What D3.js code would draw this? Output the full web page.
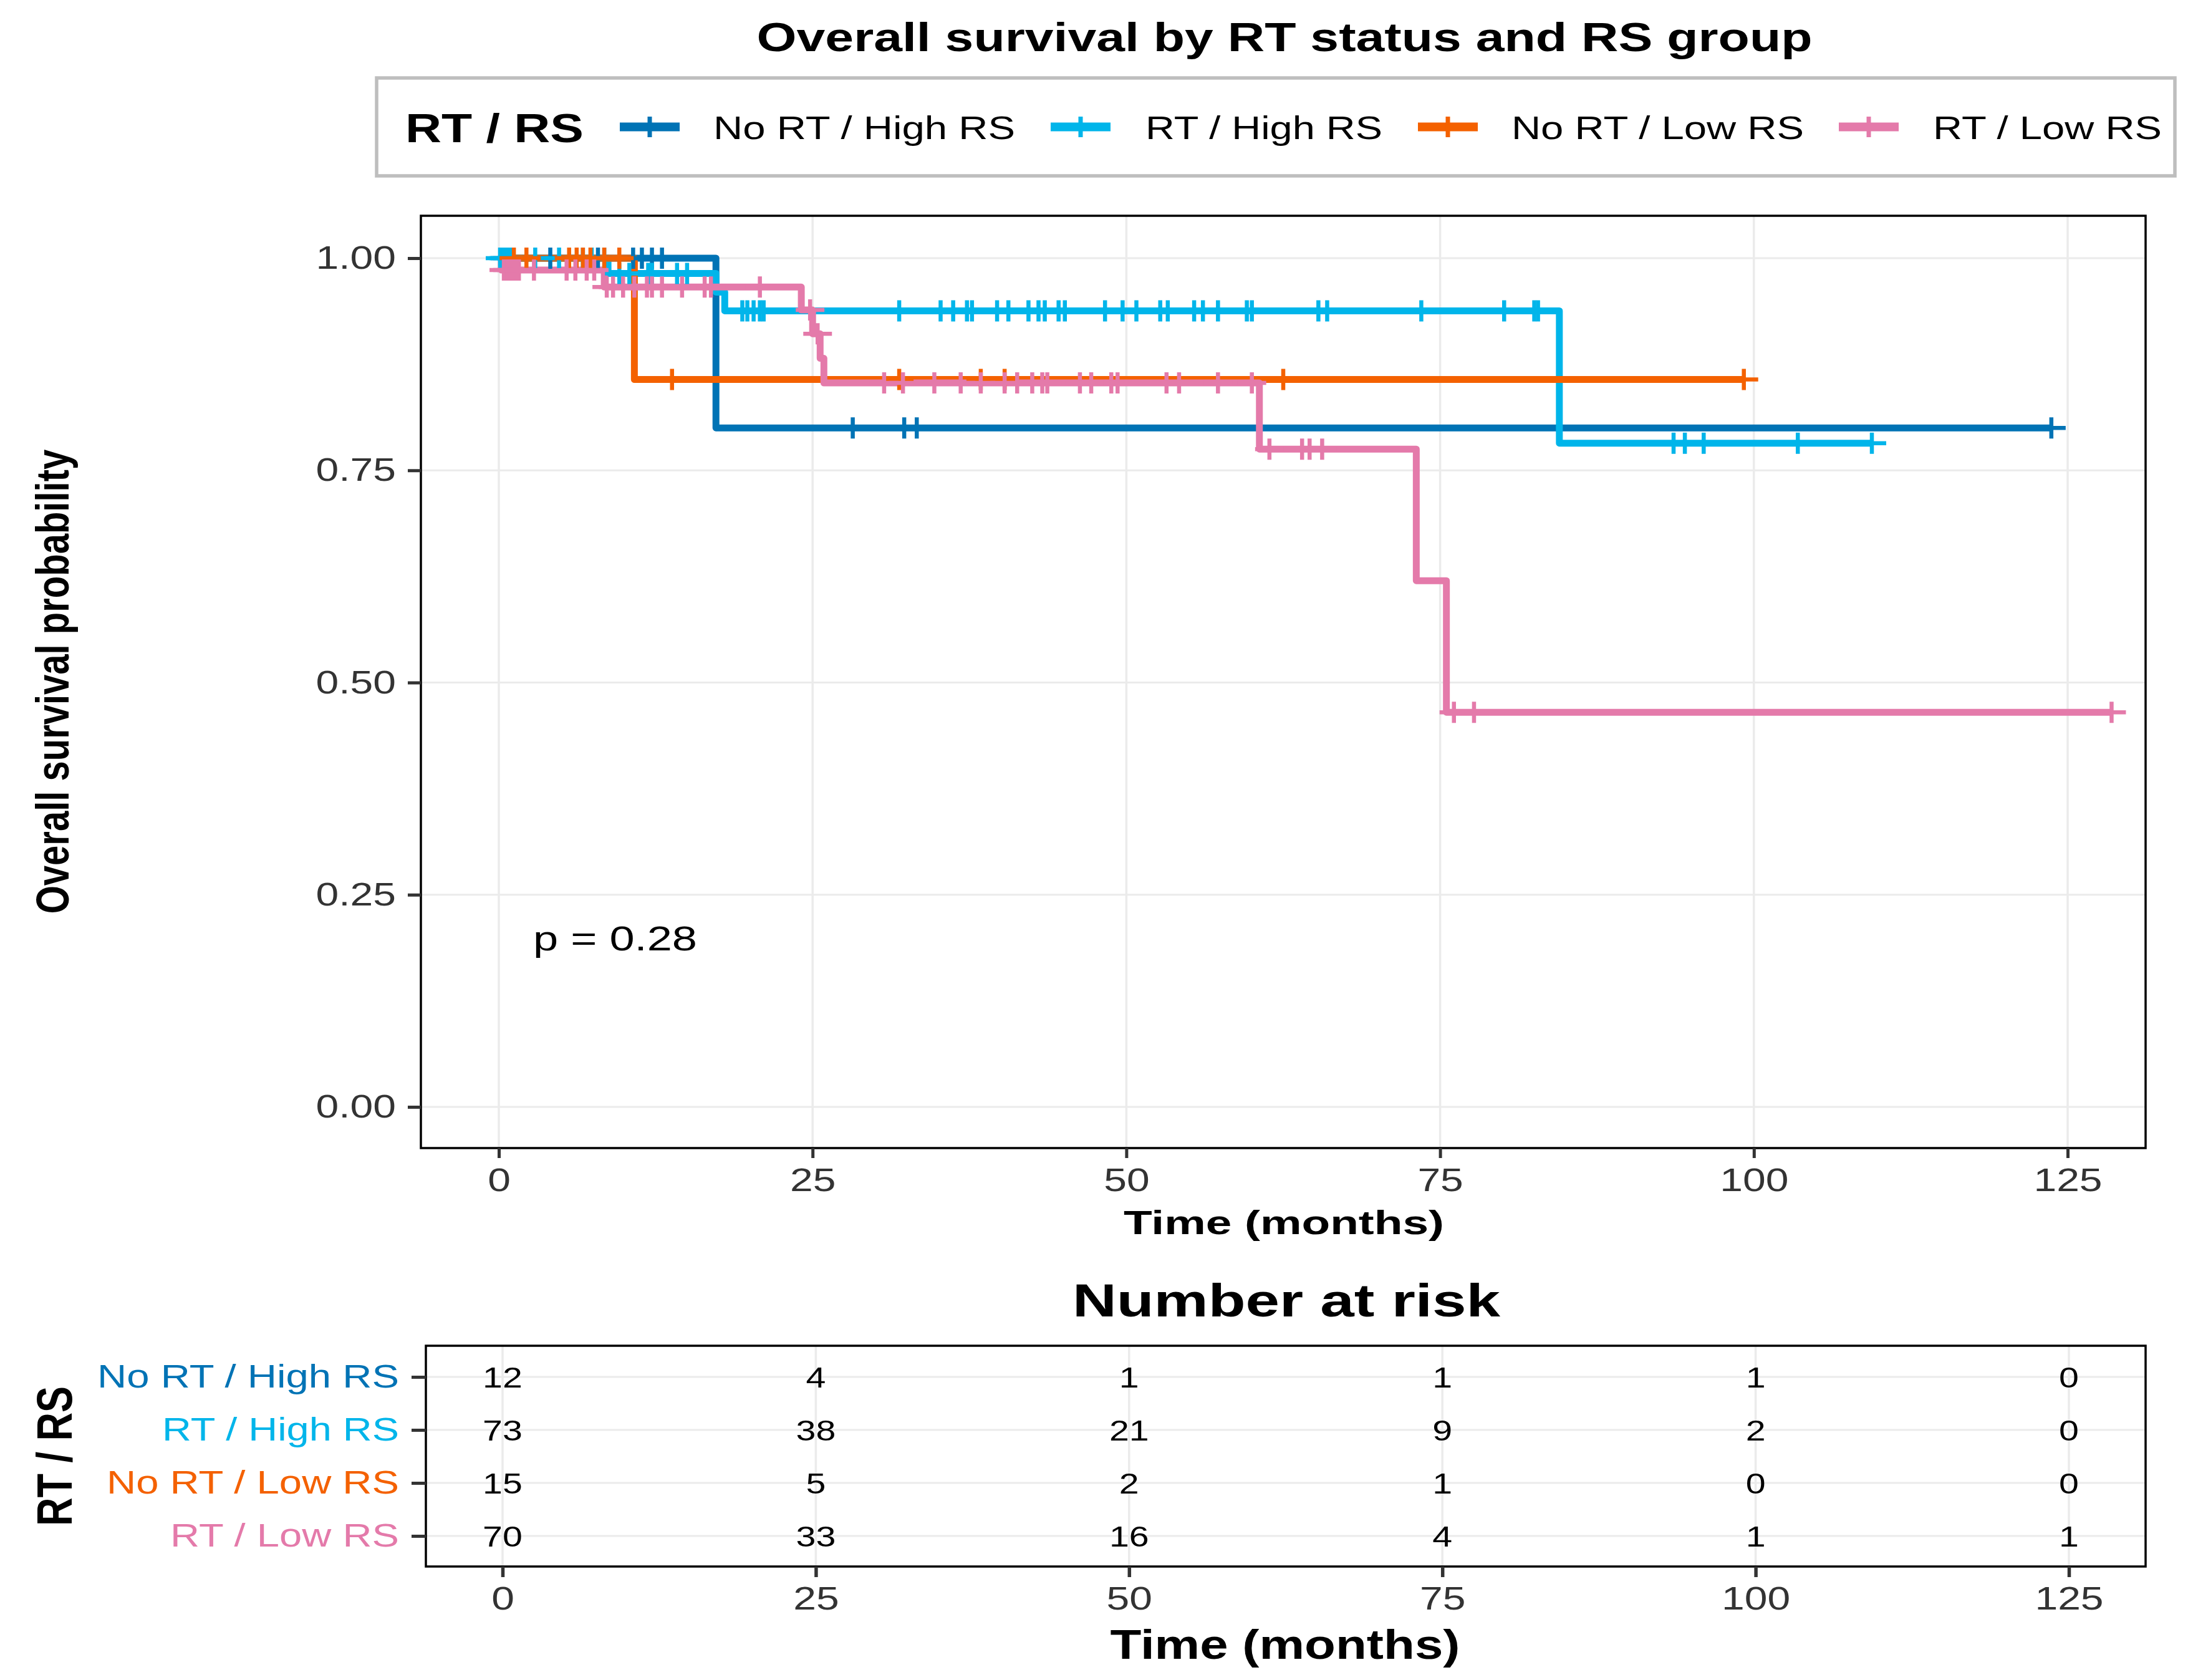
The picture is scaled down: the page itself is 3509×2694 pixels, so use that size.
<!DOCTYPE html>
<html>
<head>
<meta charset="utf-8">
<script src="https://cdn.jsdelivr.net/npm/d3@7.9.0/dist/d3.min.js"></script>
<style>
  body { margin: 0; background: #fff; }
  svg { display: block; }
  text { font-family: "Liberation Sans", Arial, Helvetica, sans-serif; }
</style>
</head>
<body>
<svg id="chart"></svg>
<script>
// ---- data ----
const groups = ['No RT / High RS', 'RT / High RS', 'No RT / Low RS', 'RT / Low RS'];
const groupColors = ['#0073B5', '#00B5EA', '#F46100', '#E47AAA'];

// survival steps: [time (months), survival after that time]
const stepsNoRtHigh = [[0, 1], [17.3, 0.80]];
const stepsRtHigh = [[0, 1], [8.7, 0.982], [17.3, 0.960], [18.0, 0.938], [84.5, 0.782]];
const stepsNoRtLow = [[0, 1], [10.8, 0.857]];
const stepsRtLow = [[0, 1], [0.2, 0.986], [8.4, 0.966], [24.1, 0.939], [25.0, 0.911],
  [25.6, 0.882], [25.9, 0.853], [60.6, 0.775], [73.1, 0.620], [75.5, 0.465]];

// last follow-up time of each curve
const endTimes = [123.7, 109.4, 99.2, 128.5];

// censoring times
const censNoRtHigh = [0.5, 4.1, 7.9, 10.7, 11.4, 12.2, 13.0, 28.2, 32.3, 33.3, 123.7];
const censRtHigh = [0.1, 0.4, 0.7, 1.0, 2.9, 4.8, 6.7, 7.4, 8.4, 9.6, 10.4, 11.9, 12.2, 14.2, 15.0,
  19.4, 19.8, 20.3, 20.8, 21.1, 31.9, 35.2, 36.2, 37.3, 37.7, 39.7, 40.6, 42.2, 43.0, 43.5, 44.6,
  45.1, 48.3, 49.7, 50.8, 52.7, 53.3, 55.4, 56.1, 57.3, 59.6, 60.0, 65.3, 66.0, 73.5, 80.1, 82.5,
  82.8, 93.6, 94.5, 96.0, 103.5, 109.4];
const censNoRtLow = [1.2, 2.2, 5.6, 6.2, 6.7, 7.3, 8.4, 9.6, 13.8, 31.9, 38.4, 40.3, 62.5, 99.2];
const censRtLow = [0.4, 0.7, 1.0, 1.3, 1.6, 2.8, 5.4, 6.1, 7.0, 7.6, 8.6, 9.1, 9.9, 10.8, 11.8, 12.2,
  13.0, 14.6, 16.4, 16.9, 20.8, 24.8, 25.4, 30.7, 32.2, 34.7, 36.8, 38.4, 40.3, 41.3, 42.5, 43.3,
  43.7, 46.3, 47.2, 48.8, 49.3, 53.2, 54.2, 57.3, 60.0, 61.4, 64.0, 64.6, 65.6, 76.1, 77.7, 128.5];

// number at risk
const riskTimes = [0, 25, 50, 75, 100, 125];
const riskNoRtHigh = [12, 4, 1, 1, 1, 0];
const riskRtHigh = [73, 38, 21, 9, 2, 0];
const riskNoRtLow = [15, 5, 2, 1, 0, 0];
const riskRtLow = [70, 33, 16, 4, 1, 1];

const xTicks = [0, 25, 50, 75, 100, 125];
const yTicks = [0, 0.25, 0.5, 0.75, 1];
const pText = 'p = 0.28';

const allSteps = [stepsNoRtHigh, stepsRtHigh, stepsNoRtLow, stepsRtLow];
const allCens = [censNoRtHigh, censRtHigh, censNoRtLow, censRtLow];
const allRisk = [riskNoRtHigh, riskRtHigh, riskNoRtLow, riskRtLow];

// ---- layout ----
const W = 3509, H = 2694;
const SX = 1.27; // the picture's text is wider than plain Arial
const panel = { left: 675, right: 3441, top: 346, bottom: 1841 };
const table = { left: 683, right: 3441, top: 2158, bottom: 2512 };
const keyX = [994, 1685, 2274, 2949];
const labelX = [1144, 1837, 2424, 3100];
const labelW = [484, 380, 469, 367];

const svg = d3.select('#chart').attr('width', W).attr('height', H);
svg.append('rect').attr('width', W).attr('height', H).attr('fill', '#fff');

function stretch(sel, f = SX) {
  sel.each(function () {
    const w = this.getComputedTextLength();
    d3.select(this).attr('textLength', w * f).attr('lengthAdjust', 'spacingAndGlyphs');
  });
}
function fit(sel, w) {
  sel.attr('textLength', w).attr('lengthAdjust', 'spacingAndGlyphs');
}

const x = d3.scaleLinear().domain([0, 125]).range([800, 3316]);
const y = d3.scaleLinear().domain([0, 1]).range([1775, 414]);
const xt = d3.scaleLinear().domain([0, 125]).range([806, 3318]);
const yt = d3.scalePoint().domain(groups).range([2208, 2463]);

// title
fit(svg.append('text').attr('x', 2060).attr('y', 82).attr('text-anchor', 'middle')
  .attr('font-size', 64).attr('font-weight', 'bold').text('Overall survival by RT status and RS group'), 1693);

// legend
const lg = svg.append('g');
lg.append('rect').attr('x', 604).attr('y', 125).attr('width', 2884).attr('height', 157)
  .attr('fill', '#fff').attr('stroke', '#BEBEBE').attr('stroke-width', 5.5);
fit(lg.append('text').attr('x', 650).attr('y', 228).attr('font-size', 64).attr('font-weight', 'bold')
  .text('RT / RS'), 286);
groups.forEach((g, i) => {
  lg.append('line').attr('x1', keyX[i]).attr('x2', keyX[i] + 96).attr('y1', 203.5).attr('y2', 203.5)
    .attr('stroke', groupColors[i]).attr('stroke-width', 14);
  lg.append('line').attr('x1', keyX[i] + 48).attr('x2', keyX[i] + 48).attr('y1', 187).attr('y2', 220)
    .attr('stroke', groupColors[i]).attr('stroke-width', 7);
  fit(lg.append('text').attr('x', labelX[i]).attr('y', 223).attr('font-size', 52).text(g), labelW[i]);
});

// main panel grid
const main = svg.append('g');
main.append('g').selectAll('line').data(xTicks).join('line')
  .attr('x1', d => x(d)).attr('x2', d => x(d)).attr('y1', panel.top).attr('y2', panel.bottom)
  .attr('stroke', '#EBEBEB').attr('stroke-width', 3.5);
main.append('g').selectAll('line').data(yTicks).join('line')
  .attr('x1', panel.left).attr('x2', panel.right).attr('y1', d => y(d)).attr('y2', d => y(d))
  .attr('stroke', '#EBEBEB').attr('stroke-width', 3);

// curves
const line = d3.line().x(d => x(d[0])).y(d => y(d[1])).curve(d3.curveStepAfter);
allSteps.forEach((steps, i) => {
  const pts = steps.concat([[endTimes[i], steps[steps.length - 1][1]]]);
  main.append('path').attr('d', line(pts)).attr('fill', 'none')
    .attr('stroke', groupColors[i]).attr('stroke-width', 11).attr('stroke-linejoin', 'round');
});

// censor marks
function survAt(steps, t) {
  let s = steps[0][1];
  steps.forEach(([tt, v]) => { if (tt <= t) s = v; });
  return s;
}
allCens.forEach((cens, i) => {
  main.append('g').selectAll('path').data(cens).join('path')
    .attr('transform', d => `translate(${x(d)},${y(survAt(allSteps[i], d))})`)
    .attr('d', 'M-23,0H23M0,-17V17')
    .attr('stroke', groupColors[i]).attr('stroke-width', 6.5).attr('fill', 'none');
});

// p value
fit(main.append('text').attr('x', 855).attr('y', 1524).attr('font-size', 55).text(pText), 263);

// panel border
main.append('rect').attr('x', panel.left).attr('y', panel.top)
  .attr('width', panel.right - panel.left).attr('height', panel.bottom - panel.top)
  .attr('fill', 'none').attr('stroke', '#000').attr('stroke-width', 3.5);

// axes
const yAxis = svg.append('g').attr('transform', `translate(${panel.left},0)`)
  .call(d3.axisLeft(y).tickValues(yTicks).tickFormat(d3.format('.2f')).tickSize(21).tickPadding(19));
const xAxis = svg.append('g').attr('transform', `translate(0,${panel.bottom})`)
  .call(d3.axisBottom(x).tickValues(xTicks).tickFormat(d3.format('d')).tickSize(16).tickPadding(16));
[yAxis, xAxis].forEach(a => {
  a.select('.domain').remove();
  a.attr('font-family', null);
  a.selectAll('line').attr('stroke', '#333').attr('stroke-width', 5);
  a.selectAll('text').attr('font-size', 52).attr('fill', '#333');
  stretch(a.selectAll('text'));
});

// axis titles
fit(svg.append('text').attr('x', 2059).attr('y', 1979).attr('text-anchor', 'middle')
  .attr('font-size', 54).attr('font-weight', 'bold').text('Time (months)'), 514);
svg.append('text').attr('transform', 'translate(110,1093) scale(1.27,1) rotate(-90)')
  .attr('text-anchor', 'middle').attr('font-size', 58).attr('font-weight', 'bold')
  .text('Overall survival probability');

// ---- risk table ----
fit(svg.append('text').attr('x', 2063).attr('y', 2111).attr('text-anchor', 'middle')
  .attr('font-size', 75).attr('font-weight', 'bold').text('Number at risk'), 686);

const tb = svg.append('g');
tb.append('g').selectAll('line').data(riskTimes).join('line')
  .attr('x1', d => xt(d)).attr('x2', d => xt(d)).attr('y1', table.top).attr('y2', table.bottom)
  .attr('stroke', '#EBEBEB').attr('stroke-width', 3.5);
tb.append('g').selectAll('line').data(groups).join('line')
  .attr('x1', table.left).attr('x2', table.right).attr('y1', d => yt(d)).attr('y2', d => yt(d))
  .attr('stroke', '#EBEBEB').attr('stroke-width', 3);

allRisk.forEach((vals, i) => {
  const t = tb.append('g').selectAll('text').data(vals).join('text')
    .attr('x', (d, j) => xt(riskTimes[j])).attr('y', yt(groups[i])).attr('dy', '0.36em')
    .attr('text-anchor', 'middle').attr('font-size', 47).attr('fill', '#000').text(d => d);
  stretch(t, 1.22);
});

tb.append('rect').attr('x', table.left).attr('y', table.top)
  .attr('width', table.right - table.left).attr('height', table.bottom - table.top)
  .attr('fill', 'none').attr('stroke', '#000').attr('stroke-width', 3.5);

const tyAxis = svg.append('g').attr('transform', `translate(${table.left},0)`)
  .call(d3.axisLeft(yt).tickSize(23).tickPadding(20));
tyAxis.select('.domain').remove();
tyAxis.attr('font-family', null);
tyAxis.selectAll('line').attr('stroke', '#333').attr('stroke-width', 5);
tyAxis.selectAll('text').attr('font-size', 51).attr('fill', (d, i) => groupColors[i])
  .each(function (d, i) { fit(d3.select(this), labelW[i]); });

const txAxis = svg.append('g').attr('transform', `translate(0,${table.bottom})`)
  .call(d3.axisBottom(xt).tickValues(riskTimes).tickFormat(d3.format('d')).tickSize(17).tickPadding(15));
txAxis.select('.domain').remove();
txAxis.attr('font-family', null);
txAxis.selectAll('line').attr('stroke', '#333').attr('stroke-width', 5.5);
txAxis.selectAll('text').attr('font-size', 52).attr('fill', '#333');
stretch(txAxis.selectAll('text'));

fit(svg.append('text').attr('x', 2061).attr('y', 2660).attr('text-anchor', 'middle')
  .attr('font-size', 67).attr('font-weight', 'bold').text('Time (months)'), 561);
svg.append('text').attr('transform', 'translate(115,2335) scale(1.27,1) rotate(-90)')
  .attr('text-anchor', 'middle').attr('font-size', 63).attr('font-weight', 'bold')
  .text('RT / RS');
</script>
</body>
</html>
